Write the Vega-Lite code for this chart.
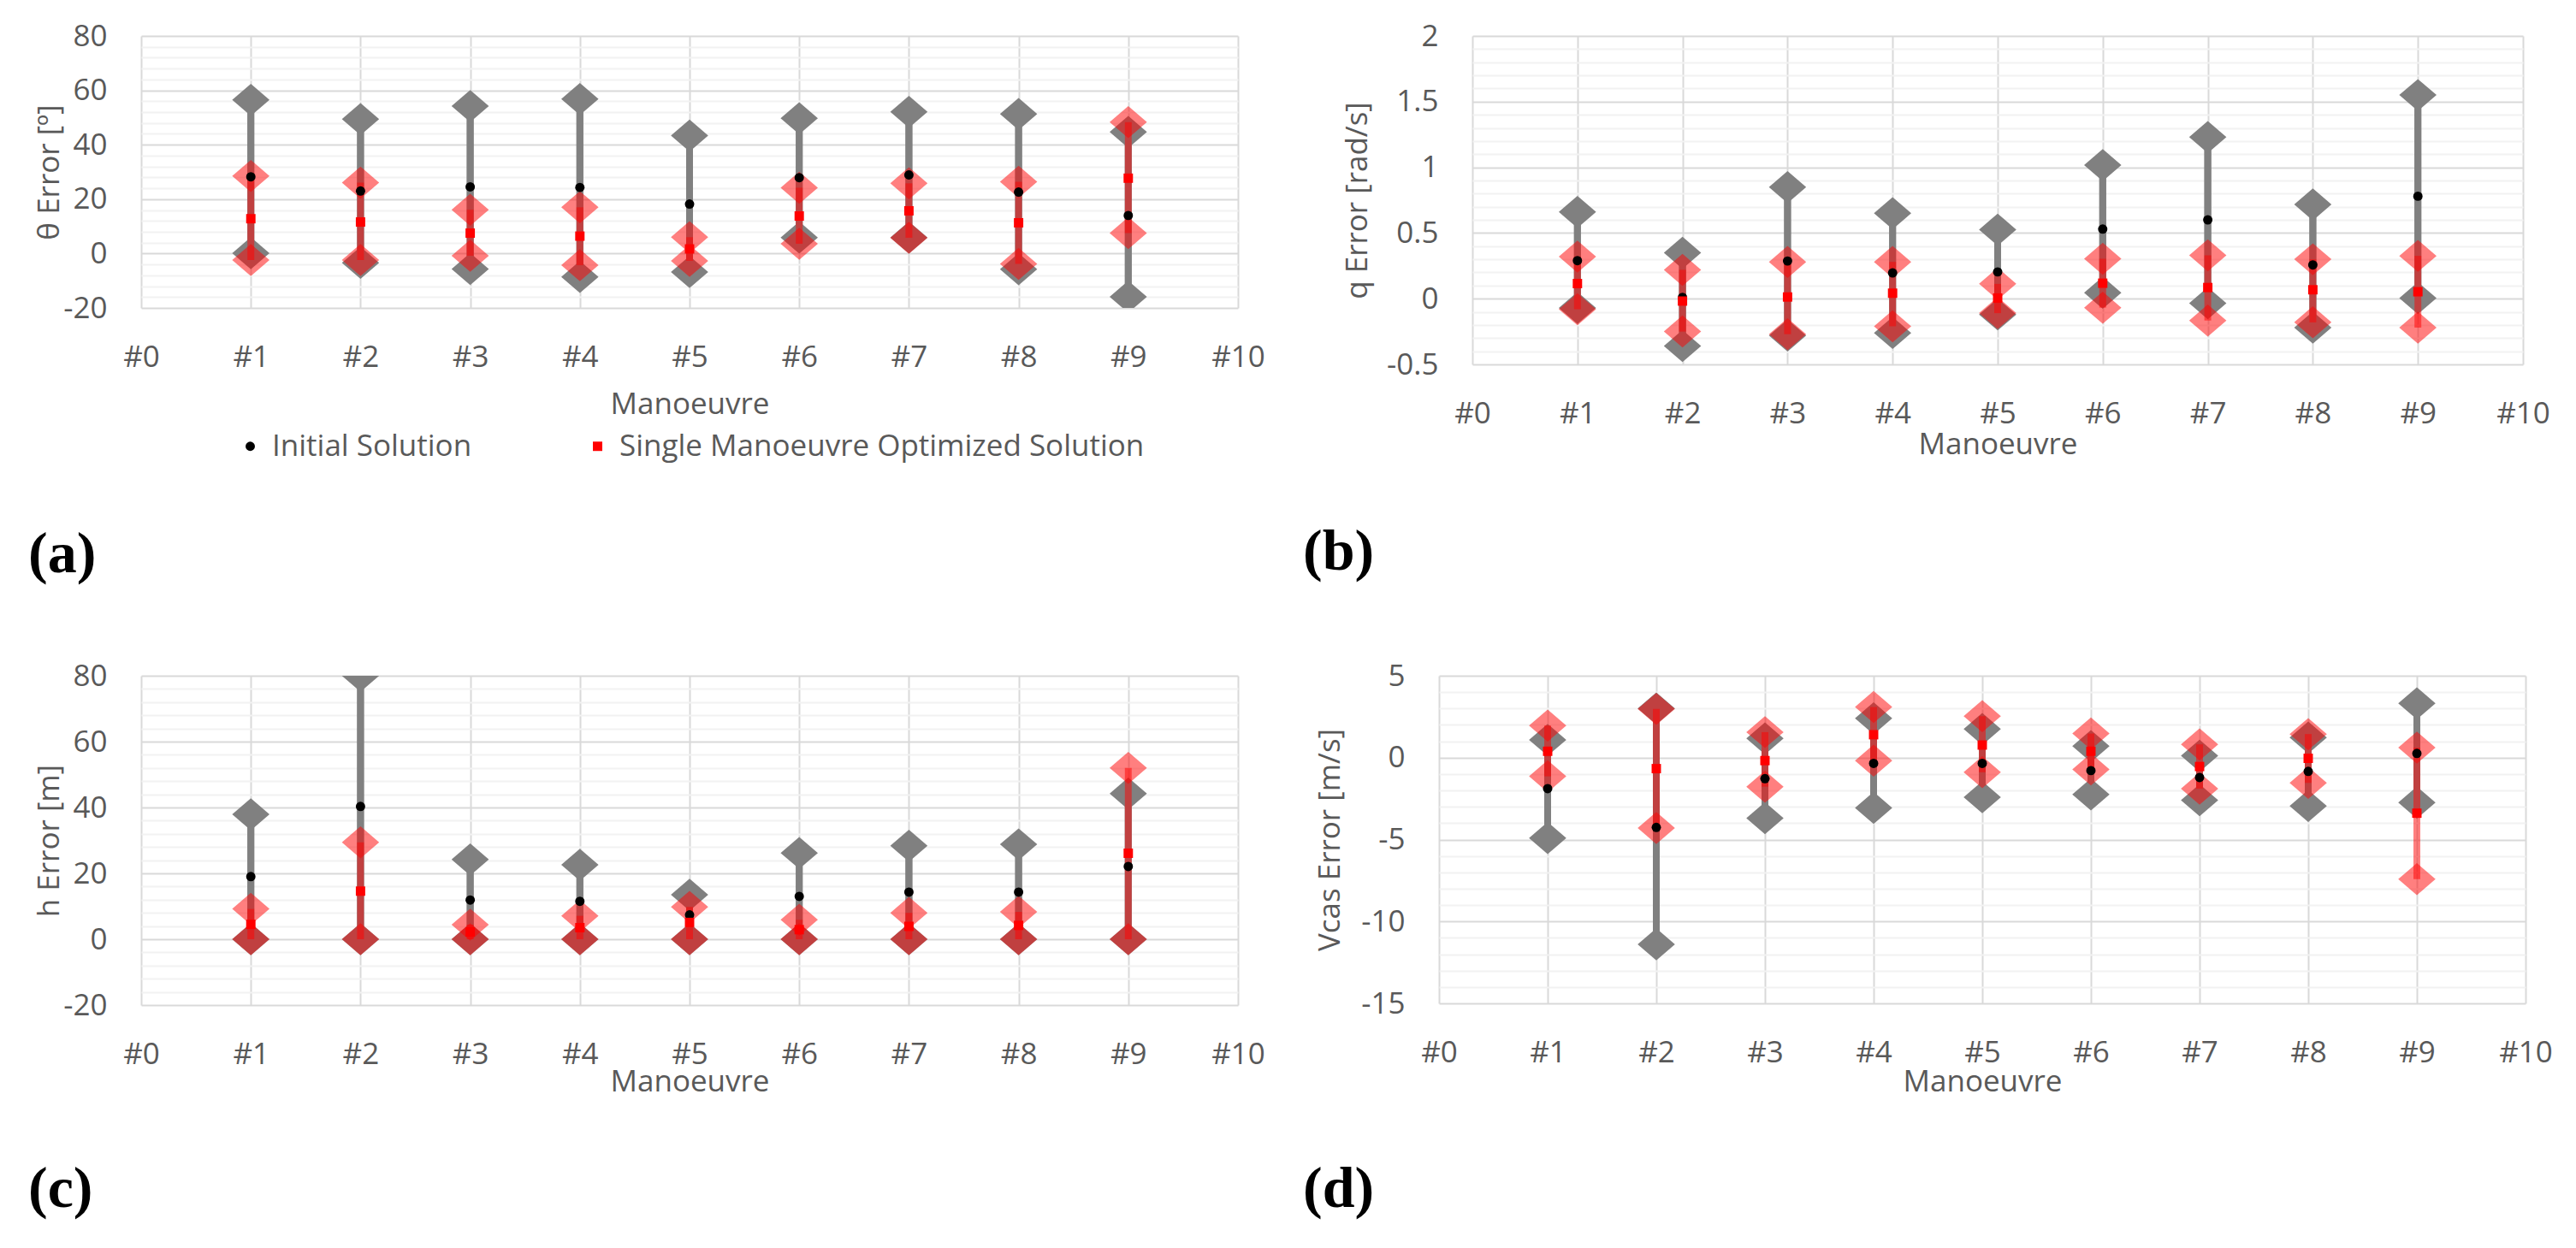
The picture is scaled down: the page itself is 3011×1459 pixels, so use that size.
{
  "$schema": "https://vega.github.io/schema/vega-lite/v6.json",
  "background": "white",
  "padding": {"left": 33, "top": 25, "right": 10, "bottom": 10},
  "config": {
    "font": "Open Sans",
    "view": {"stroke": null},
    "axis": {
      "labelFont": "Open Sans", "labelFontSize": 35, "labelColor": "#595959",
      "titleFont": "Open Sans", "titleFontSize": 35, "titleColor": "#595959", "titleFontWeight": "normal",
      "ticks": false, "domain": false, "labelFlush": false, "labelOverlap": false,
      "gridWidth": 2, "labelPadding": 40
    }
  },
  "datasets": {
    "d": [
      {"p": "a", "m": 1, "s": "Initial Solution", "lo": 0.1, "hi": 56.5, "mean": 28.2},
      {"p": "a", "m": 1, "s": "Single Manoeuvre Optimized Solution", "lo": -2.4, "hi": 28.5, "mean": 12.8},
      {"p": "a", "m": 2, "s": "Initial Solution", "lo": -3.4, "hi": 49.4, "mean": 23.0},
      {"p": "a", "m": 2, "s": "Single Manoeuvre Optimized Solution", "lo": -2.4, "hi": 26.1, "mean": 11.6},
      {"p": "a", "m": 3, "s": "Initial Solution", "lo": -5.7, "hi": 54.2, "mean": 24.5},
      {"p": "a", "m": 3, "s": "Single Manoeuvre Optimized Solution", "lo": -0.8, "hi": 16.1, "mean": 7.5},
      {"p": "a", "m": 4, "s": "Initial Solution", "lo": -8.6, "hi": 56.8, "mean": 24.3},
      {"p": "a", "m": 4, "s": "Single Manoeuvre Optimized Solution", "lo": -4.3, "hi": 17.0, "mean": 6.4},
      {"p": "a", "m": 5, "s": "Initial Solution", "lo": -6.8, "hi": 43.4, "mean": 18.2},
      {"p": "a", "m": 5, "s": "Single Manoeuvre Optimized Solution", "lo": -2.7, "hi": 6.0, "mean": 1.7},
      {"p": "a", "m": 6, "s": "Initial Solution", "lo": 5.9, "hi": 49.7, "mean": 27.9},
      {"p": "a", "m": 6, "s": "Single Manoeuvre Optimized Solution", "lo": 3.6, "hi": 24.2, "mean": 13.8},
      {"p": "a", "m": 7, "s": "Initial Solution", "lo": 5.9, "hi": 52.1, "mean": 28.9},
      {"p": "a", "m": 7, "s": "Single Manoeuvre Optimized Solution", "lo": 5.8, "hi": 25.8, "mean": 15.7},
      {"p": "a", "m": 8, "s": "Initial Solution", "lo": -5.8, "hi": 51.3, "mean": 22.6},
      {"p": "a", "m": 8, "s": "Single Manoeuvre Optimized Solution", "lo": -3.8, "hi": 26.4, "mean": 11.3},
      {"p": "a", "m": 9, "s": "Initial Solution", "lo": -15.9, "hi": 44.7, "mean": 14.0},
      {"p": "a", "m": 9, "s": "Single Manoeuvre Optimized Solution", "lo": 7.5, "hi": 48.3, "mean": 27.7},

      {"p": "b", "m": 1, "s": "Initial Solution", "lo": -0.07, "hi": 0.66, "mean": 0.29},
      {"p": "b", "m": 1, "s": "Single Manoeuvre Optimized Solution", "lo": -0.08, "hi": 0.32, "mean": 0.115},
      {"p": "b", "m": 2, "s": "Initial Solution", "lo": -0.36, "hi": 0.35, "mean": 0.01},
      {"p": "b", "m": 2, "s": "Single Manoeuvre Optimized Solution", "lo": -0.25, "hi": 0.22, "mean": -0.018},
      {"p": "b", "m": 3, "s": "Initial Solution", "lo": -0.28, "hi": 0.85, "mean": 0.287},
      {"p": "b", "m": 3, "s": "Single Manoeuvre Optimized Solution", "lo": -0.27, "hi": 0.28, "mean": 0.013},
      {"p": "b", "m": 4, "s": "Initial Solution", "lo": -0.26, "hi": 0.65, "mean": 0.196},
      {"p": "b", "m": 4, "s": "Single Manoeuvre Optimized Solution", "lo": -0.21, "hi": 0.28, "mean": 0.042},
      {"p": "b", "m": 5, "s": "Initial Solution", "lo": -0.12, "hi": 0.526, "mean": 0.204},
      {"p": "b", "m": 5, "s": "Single Manoeuvre Optimized Solution", "lo": -0.11, "hi": 0.113, "mean": 0.005},
      {"p": "b", "m": 6, "s": "Initial Solution", "lo": 0.046, "hi": 1.017, "mean": 0.53},
      {"p": "b", "m": 6, "s": "Single Manoeuvre Optimized Solution", "lo": -0.068, "hi": 0.304, "mean": 0.118},
      {"p": "b", "m": 7, "s": "Initial Solution", "lo": -0.035, "hi": 1.23, "mean": 0.6},
      {"p": "b", "m": 7, "s": "Single Manoeuvre Optimized Solution", "lo": -0.166, "hi": 0.33, "mean": 0.085},
      {"p": "b", "m": 8, "s": "Initial Solution", "lo": -0.22, "hi": 0.717, "mean": 0.257},
      {"p": "b", "m": 8, "s": "Single Manoeuvre Optimized Solution", "lo": -0.18, "hi": 0.3, "mean": 0.068},
      {"p": "b", "m": 9, "s": "Initial Solution", "lo": 0.005, "hi": 1.55, "mean": 0.78},
      {"p": "b", "m": 9, "s": "Single Manoeuvre Optimized Solution", "lo": -0.22, "hi": 0.326, "mean": 0.053},

      {"p": "c", "m": 1, "s": "Initial Solution", "lo": 0, "hi": 37.9, "mean": 19.0},
      {"p": "c", "m": 1, "s": "Single Manoeuvre Optimized Solution", "lo": 0, "hi": 9.2, "mean": 4.5},
      {"p": "c", "m": 2, "s": "Initial Solution", "lo": 0, "hi": 80, "mean": 40.3},
      {"p": "c", "m": 2, "s": "Single Manoeuvre Optimized Solution", "lo": 0, "hi": 29.4, "mean": 14.6},
      {"p": "c", "m": 3, "s": "Initial Solution", "lo": 0, "hi": 24.2, "mean": 11.9},
      {"p": "c", "m": 3, "s": "Single Manoeuvre Optimized Solution", "lo": 0, "hi": 4.4, "mean": 2.2},
      {"p": "c", "m": 4, "s": "Initial Solution", "lo": 0, "hi": 22.6, "mean": 11.5},
      {"p": "c", "m": 4, "s": "Single Manoeuvre Optimized Solution", "lo": 0, "hi": 7.1, "mean": 3.5},
      {"p": "c", "m": 5, "s": "Initial Solution", "lo": 0, "hi": 13.5, "mean": 7.4},
      {"p": "c", "m": 5, "s": "Single Manoeuvre Optimized Solution", "lo": 0, "hi": 9.8, "mean": 5.1},
      {"p": "c", "m": 6, "s": "Initial Solution", "lo": 0, "hi": 26.2, "mean": 13.0},
      {"p": "c", "m": 6, "s": "Single Manoeuvre Optimized Solution", "lo": 0, "hi": 5.9, "mean": 2.9},
      {"p": "c", "m": 7, "s": "Initial Solution", "lo": 0, "hi": 28.4, "mean": 14.3},
      {"p": "c", "m": 7, "s": "Single Manoeuvre Optimized Solution", "lo": 0, "hi": 8.0, "mean": 3.9},
      {"p": "c", "m": 8, "s": "Initial Solution", "lo": 0, "hi": 28.8, "mean": 14.3},
      {"p": "c", "m": 8, "s": "Single Manoeuvre Optimized Solution", "lo": 0, "hi": 8.3, "mean": 4.2},
      {"p": "c", "m": 9, "s": "Initial Solution", "lo": 0, "hi": 44.2, "mean": 22.1},
      {"p": "c", "m": 9, "s": "Single Manoeuvre Optimized Solution", "lo": 0, "hi": 52.0, "mean": 26.1},

      {"p": "d", "m": 1, "s": "Initial Solution", "lo": -4.91, "hi": 1.09, "mean": -1.89},
      {"p": "d", "m": 1, "s": "Single Manoeuvre Optimized Solution", "lo": -1.14, "hi": 1.96, "mean": 0.39},
      {"p": "d", "m": 2, "s": "Initial Solution", "lo": -11.4, "hi": 3.0, "mean": -4.26},
      {"p": "d", "m": 2, "s": "Single Manoeuvre Optimized Solution", "lo": -4.3, "hi": 2.98, "mean": -0.67},
      {"p": "d", "m": 3, "s": "Initial Solution", "lo": -3.7, "hi": 1.18, "mean": -1.28},
      {"p": "d", "m": 3, "s": "Single Manoeuvre Optimized Solution", "lo": -1.77, "hi": 1.56, "mean": -0.18},
      {"p": "d", "m": 4, "s": "Initial Solution", "lo": -3.07, "hi": 2.4, "mean": -0.35},
      {"p": "d", "m": 4, "s": "Single Manoeuvre Optimized Solution", "lo": -0.18, "hi": 3.09, "mean": 1.4},
      {"p": "d", "m": 5, "s": "Initial Solution", "lo": -2.42, "hi": 1.75, "mean": -0.35},
      {"p": "d", "m": 5, "s": "Single Manoeuvre Optimized Solution", "lo": -0.89, "hi": 2.53, "mean": 0.77},
      {"p": "d", "m": 6, "s": "Initial Solution", "lo": -2.25, "hi": 0.70, "mean": -0.79},
      {"p": "d", "m": 6, "s": "Single Manoeuvre Optimized Solution", "lo": -0.72, "hi": 1.47, "mean": 0.39},
      {"p": "d", "m": 7, "s": "Initial Solution", "lo": -2.6, "hi": 0.12, "mean": -1.21},
      {"p": "d", "m": 7, "s": "Single Manoeuvre Optimized Solution", "lo": -1.89, "hi": 0.81, "mean": -0.54},
      {"p": "d", "m": 8, "s": "Initial Solution", "lo": -2.95, "hi": 1.23, "mean": -0.84},
      {"p": "d", "m": 8, "s": "Single Manoeuvre Optimized Solution", "lo": -1.54, "hi": 1.44, "mean": -0.04},
      {"p": "d", "m": 9, "s": "Initial Solution", "lo": -2.74, "hi": 3.32, "mean": 0.26},
      {"p": "d", "m": 9, "s": "Single Manoeuvre Optimized Solution", "lo": -7.42, "hi": 0.61, "mean": -3.39}
    ]
  },
  "resolve": {"scale": {"color": "independent", "shape": "independent"}},
  "spacing": 90,
  "vconcat": [
    {
      "spacing": 44,
      "resolve": {"scale": {"color": "independent", "shape": "independent"}},
      "hconcat": [
        {
          "width": 1282, "height": 318,
          "data": {"name": "d"},
          "transform": [{"filter": "datum.p === 'a'"}],
          "title": {"text": "(a)", "orient": "bottom", "anchor": "start", "frame": "group", "dx": -132, "offset": 75, "font": "Liberation Serif", "fontSize": 68, "fontWeight": "bold", "color": "#000000"},
          "encoding": {
            "x": {"field": "m", "type": "quantitative", "scale": {"domain": [0, 10], "nice": false, "zero": false},
              "axis": {"title": "Manoeuvre", "values": [0,1,2,3,4,5,6,7,8,9,10], "tickCount": 100, "labelExpr": "'#' + datum.value", "grid": true, "gridColor": "#d9d9d9", "titleY": 112, "titleBaseline": "middle"}}
          },
          "layer": [
            {"transform": [{"filter": "datum.s === 'Initial Solution'"}],
             "mark": {"type": "rule", "color": "#808080", "strokeWidth": 8, "clip": true},
             "encoding": {
               "y": {"field": "lo", "type": "quantitative", "scale": {"domain": [-20, 80], "nice": false, "zero": false},
                 "axis": {"title": "θ Error [º]", "values": [-20,-16,-12,-8,-4,0,4,8,12,16,20,24,28,32,36,40,44,48,52,56,60,64,68,72,76,80], "tickCount": 100,
                   "labelExpr": "datum.value % 20 === 0 ? '' + datum.value : ''", "grid": true,
                   "gridColor": {"condition": {"test": "datum.value % 20 === 0", "value": "#d9d9d9"}, "value": "#f2f2f2"},
                   "titleX": -108, "titleBaseline": "middle"}},
               "y2": {"field": "hi"}}},
            {"mark": {"type": "rule", "color": "#bfbfbf", "strokeWidth": 2.5},
             "encoding": {"y": {"datum": 0}}},
            {"transform": [{"filter": "datum.s === 'Initial Solution'"}],
             "mark": {"type": "rule", "color": "#808080", "strokeWidth": 8, "clip": true},
             "encoding": {"y": {"field": "lo", "type": "quantitative"}, "y2": {"field": "hi"}}},
            {"transform": [{"filter": "datum.s === 'Initial Solution'"}, {"fold": ["lo", "hi"], "as": ["k", "v"]}],
             "mark": {"type": "point", "shape": "M-1,0L0,-0.86L1,0L0,0.86Z", "filled": true, "size": 1900, "color": "#808080", "opacity": 1, "clip": true},
             "encoding": {"y": {"field": "v", "type": "quantitative"}}},
            {"transform": [{"filter": "datum.s !== 'Initial Solution'"}],
             "mark": {"type": "rule", "color": "#ff0000", "opacity": 0.5, "strokeWidth": 8, "clip": true},
             "encoding": {"y": {"field": "lo", "type": "quantitative"}, "y2": {"field": "hi"}}},
            {"transform": [{"filter": "datum.s !== 'Initial Solution'"}, {"fold": ["lo", "hi"], "as": ["k", "v"]}],
             "mark": {"type": "point", "shape": "M-1,0L0,-0.86L1,0L0,0.86Z", "filled": true, "size": 1900, "color": "#ff0000", "opacity": 0.5, "clip": true},
             "encoding": {"y": {"field": "v", "type": "quantitative"}}},
            {"mark": {"type": "point", "filled": true, "size": 120, "opacity": 1, "clip": true},
             "encoding": {
               "y": {"field": "mean", "type": "quantitative"},
               "color": {"field": "s", "type": "nominal", "scale": {"domain": ["Initial Solution", "Single Manoeuvre Optimized Solution"], "range": ["#000000", "#ff0000"]},
                 "legend": {"title": null, "orient": "none", "legendX": 110, "legendY": 462, "direction": "horizontal", "columns": 2, "columnPadding": 129, "labelFont": "Open Sans", "labelFontSize": 35, "labelColor": "#595959", "labelOffset": 8, "symbolSize": 120, "labelLimit": 1000}},
               "shape": {"field": "s", "type": "nominal", "scale": {"domain": ["Initial Solution", "Single Manoeuvre Optimized Solution"], "range": ["circle", "square"]},
                 "legend": {"title": null, "orient": "none", "legendX": 110, "legendY": 462, "direction": "horizontal", "columns": 2, "columnPadding": 129, "labelFont": "Open Sans", "labelFontSize": 35, "labelColor": "#595959", "labelOffset": 8, "symbolSize": 120, "labelLimit": 1000}}
             }}
          ]
        },
        {
          "width": 1228, "height": 384,
          "data": {"name": "d"},
          "transform": [{"filter": "datum.p === 'b'"}],
          "title": {"text": "(b)", "orient": "bottom", "anchor": "start", "frame": "group", "dx": -198, "offset": 75, "font": "Liberation Serif", "fontSize": 68, "fontWeight": "bold", "color": "#000000"},
          "encoding": {
            "x": {"field": "m", "type": "quantitative", "scale": {"domain": [0, 10], "nice": false, "zero": false},
              "axis": {"title": "Manoeuvre", "values": [0,1,2,3,4,5,6,7,8,9,10], "tickCount": 100, "labelExpr": "'#' + datum.value", "grid": true, "gridColor": "#d9d9d9", "titleY": 93, "titleBaseline": "middle"}}
          },
          "layer": [
            {"transform": [{"filter": "datum.s === 'Initial Solution'"}],
             "mark": {"type": "rule", "color": "#808080", "strokeWidth": 8, "clip": true},
             "encoding": {
               "y": {"field": "lo", "type": "quantitative", "scale": {"domain": [-0.5, 2], "nice": false, "zero": false},
                 "axis": {"title": "q Error [rad/s]", "values": [-0.5,-0.4,-0.3,-0.2,-0.1,0,0.1,0.2,0.3,0.4,0.5,0.6,0.7,0.8,0.9,1,1.1,1.2,1.3,1.4,1.5,1.6,1.7,1.8,1.9,2], "tickCount": 100,
                   "labelExpr": "abs(round(datum.value*2) - datum.value*2) < 0.001 ? '' + datum.value : ''", "grid": true,
                   "gridColor": {"condition": {"test": "abs(round(datum.value*2) - datum.value*2) < 0.001", "value": "#d9d9d9"}, "value": "#f2f2f2"},
                   "titleX": -135, "titleBaseline": "middle"}},
               "y2": {"field": "hi"}}},
            {"mark": {"type": "rule", "color": "#bfbfbf", "strokeWidth": 2.5},
             "encoding": {"y": {"datum": 0}}},
            {"transform": [{"filter": "datum.s === 'Initial Solution'"}],
             "mark": {"type": "rule", "color": "#808080", "strokeWidth": 8, "clip": true},
             "encoding": {"y": {"field": "lo", "type": "quantitative"}, "y2": {"field": "hi"}}},
            {"transform": [{"filter": "datum.s === 'Initial Solution'"}, {"fold": ["lo", "hi"], "as": ["k", "v"]}],
             "mark": {"type": "point", "shape": "M-1,0L0,-0.86L1,0L0,0.86Z", "filled": true, "size": 1900, "color": "#808080", "opacity": 1, "clip": true},
             "encoding": {"y": {"field": "v", "type": "quantitative"}}},
            {"transform": [{"filter": "datum.s !== 'Initial Solution'"}],
             "mark": {"type": "rule", "color": "#ff0000", "opacity": 0.5, "strokeWidth": 8, "clip": true},
             "encoding": {"y": {"field": "lo", "type": "quantitative"}, "y2": {"field": "hi"}}},
            {"transform": [{"filter": "datum.s !== 'Initial Solution'"}, {"fold": ["lo", "hi"], "as": ["k", "v"]}],
             "mark": {"type": "point", "shape": "M-1,0L0,-0.86L1,0L0,0.86Z", "filled": true, "size": 1900, "color": "#ff0000", "opacity": 0.5, "clip": true},
             "encoding": {"y": {"field": "v", "type": "quantitative"}}},
            {"transform": [{"filter": "datum.s === 'Initial Solution'"}],
             "mark": {"type": "point", "shape": "circle", "filled": true, "size": 120, "color": "#000000", "opacity": 1, "clip": true},
             "encoding": {"y": {"field": "mean", "type": "quantitative"}}},
            {"transform": [{"filter": "datum.s !== 'Initial Solution'"}],
             "mark": {"type": "point", "shape": "square", "filled": true, "size": 120, "color": "#ff0000", "opacity": 1, "clip": true},
             "encoding": {"y": {"field": "mean", "type": "quantitative"}}}
          ]
        }
      ]
    },
    {
      "spacing": 44,
      "resolve": {"scale": {"color": "independent", "shape": "independent"}},
      "hconcat": [
        {
          "width": 1282, "height": 385,
          "data": {"name": "d"},
          "transform": [{"filter": "datum.p === 'c'"}],
          "title": {"text": "(c)", "orient": "bottom", "anchor": "start", "frame": "group", "dx": -132, "offset": 75, "font": "Liberation Serif", "fontSize": 68, "fontWeight": "bold", "color": "#000000"},
          "encoding": {
            "x": {"field": "m", "type": "quantitative", "scale": {"domain": [0, 10], "nice": false, "zero": false},
              "axis": {"title": "Manoeuvre", "values": [0,1,2,3,4,5,6,7,8,9,10], "tickCount": 100, "labelExpr": "'#' + datum.value", "grid": true, "gridColor": "#d9d9d9", "titleY": 89, "titleBaseline": "middle"}}
          },
          "layer": [
            {"transform": [{"filter": "datum.s === 'Initial Solution'"}],
             "mark": {"type": "rule", "color": "#808080", "strokeWidth": 8, "clip": true},
             "encoding": {
               "y": {"field": "lo", "type": "quantitative", "scale": {"domain": [-20, 80], "nice": false, "zero": false},
                 "axis": {"title": "h Error [m]", "values": [-20,-16,-12,-8,-4,0,4,8,12,16,20,24,28,32,36,40,44,48,52,56,60,64,68,72,76,80], "tickCount": 100,
                   "labelExpr": "datum.value % 20 === 0 ? '' + datum.value : ''", "grid": true,
                   "gridColor": {"condition": {"test": "datum.value % 20 === 0", "value": "#d9d9d9"}, "value": "#f2f2f2"},
                   "titleX": -108, "titleBaseline": "middle"}},
               "y2": {"field": "hi"}}},
            {"mark": {"type": "rule", "color": "#bfbfbf", "strokeWidth": 2.5},
             "encoding": {"y": {"datum": 0}}},
            {"transform": [{"filter": "datum.s === 'Initial Solution'"}],
             "mark": {"type": "rule", "color": "#808080", "strokeWidth": 8, "clip": true},
             "encoding": {"y": {"field": "lo", "type": "quantitative"}, "y2": {"field": "hi"}}},
            {"transform": [{"filter": "datum.s === 'Initial Solution'"}, {"fold": ["lo", "hi"], "as": ["k", "v"]}],
             "mark": {"type": "point", "shape": "M-1,0L0,-0.86L1,0L0,0.86Z", "filled": true, "size": 1900, "color": "#808080", "opacity": 1, "clip": true},
             "encoding": {"y": {"field": "v", "type": "quantitative"}}},
            {"transform": [{"filter": "datum.s !== 'Initial Solution'"}],
             "mark": {"type": "rule", "color": "#ff0000", "opacity": 0.5, "strokeWidth": 8, "clip": true},
             "encoding": {"y": {"field": "lo", "type": "quantitative"}, "y2": {"field": "hi"}}},
            {"transform": [{"filter": "datum.s !== 'Initial Solution'"}, {"fold": ["lo", "hi"], "as": ["k", "v"]}],
             "mark": {"type": "point", "shape": "M-1,0L0,-0.86L1,0L0,0.86Z", "filled": true, "size": 1900, "color": "#ff0000", "opacity": 0.5, "clip": true},
             "encoding": {"y": {"field": "v", "type": "quantitative"}}},
            {"transform": [{"filter": "datum.s === 'Initial Solution'"}],
             "mark": {"type": "point", "shape": "circle", "filled": true, "size": 120, "color": "#000000", "opacity": 1, "clip": true},
             "encoding": {"y": {"field": "mean", "type": "quantitative"}}},
            {"transform": [{"filter": "datum.s !== 'Initial Solution'"}],
             "mark": {"type": "point", "shape": "square", "filled": true, "size": 120, "color": "#ff0000", "opacity": 1, "clip": true},
             "encoding": {"y": {"field": "mean", "type": "quantitative"}}}
          ]
        },
        {
          "width": 1270, "height": 383,
          "data": {"name": "d"},
          "transform": [{"filter": "datum.p === 'd'"}],
          "title": {"text": "(d)", "orient": "bottom", "anchor": "start", "frame": "group", "dx": -159, "offset": 75, "font": "Liberation Serif", "fontSize": 68, "fontWeight": "bold", "color": "#000000"},
          "encoding": {
            "x": {"field": "m", "type": "quantitative", "scale": {"domain": [0, 10], "nice": false, "zero": false},
              "axis": {"title": "Manoeuvre", "values": [0,1,2,3,4,5,6,7,8,9,10], "tickCount": 100, "labelExpr": "'#' + datum.value", "grid": true, "gridColor": "#d9d9d9", "titleY": 91, "titleBaseline": "middle"}}
          },
          "layer": [
            {"transform": [{"filter": "datum.s === 'Initial Solution'"}],
             "mark": {"type": "rule", "color": "#808080", "strokeWidth": 8, "clip": true},
             "encoding": {
               "y": {"field": "lo", "type": "quantitative", "scale": {"domain": [-15, 5], "nice": false, "zero": false},
                 "axis": {"title": "Vcas Error [m/s]", "values": [-15,-14,-13,-12,-11,-10,-9,-8,-7,-6,-5,-4,-3,-2,-1,0,1,2,3,4,5], "tickCount": 100,
                   "labelExpr": "datum.value % 5 === 0 ? '' + datum.value : ''", "grid": true,
                   "gridColor": {"condition": {"test": "datum.value % 5 === 0", "value": "#d9d9d9"}, "value": "#f2f2f2"},
                   "titleX": -128, "titleBaseline": "middle"}},
               "y2": {"field": "hi"}}},
            {"mark": {"type": "rule", "color": "#bfbfbf", "strokeWidth": 2.5},
             "encoding": {"y": {"datum": 0}}},
            {"transform": [{"filter": "datum.s === 'Initial Solution'"}],
             "mark": {"type": "rule", "color": "#808080", "strokeWidth": 8, "clip": true},
             "encoding": {"y": {"field": "lo", "type": "quantitative"}, "y2": {"field": "hi"}}},
            {"transform": [{"filter": "datum.s === 'Initial Solution'"}, {"fold": ["lo", "hi"], "as": ["k", "v"]}],
             "mark": {"type": "point", "shape": "M-1,0L0,-0.86L1,0L0,0.86Z", "filled": true, "size": 1900, "color": "#808080", "opacity": 1, "clip": true},
             "encoding": {"y": {"field": "v", "type": "quantitative"}}},
            {"transform": [{"filter": "datum.s !== 'Initial Solution'"}],
             "mark": {"type": "rule", "color": "#ff0000", "opacity": 0.5, "strokeWidth": 8, "clip": true},
             "encoding": {"y": {"field": "lo", "type": "quantitative"}, "y2": {"field": "hi"}}},
            {"transform": [{"filter": "datum.s !== 'Initial Solution'"}, {"fold": ["lo", "hi"], "as": ["k", "v"]}],
             "mark": {"type": "point", "shape": "M-1,0L0,-0.86L1,0L0,0.86Z", "filled": true, "size": 1900, "color": "#ff0000", "opacity": 0.5, "clip": true},
             "encoding": {"y": {"field": "v", "type": "quantitative"}}},
            {"transform": [{"filter": "datum.s === 'Initial Solution'"}],
             "mark": {"type": "point", "shape": "circle", "filled": true, "size": 120, "color": "#000000", "opacity": 1, "clip": true},
             "encoding": {"y": {"field": "mean", "type": "quantitative"}}},
            {"transform": [{"filter": "datum.s !== 'Initial Solution'"}],
             "mark": {"type": "point", "shape": "square", "filled": true, "size": 120, "color": "#ff0000", "opacity": 1, "clip": true},
             "encoding": {"y": {"field": "mean", "type": "quantitative"}}}
          ]
        }
      ]
    }
  ]
}
